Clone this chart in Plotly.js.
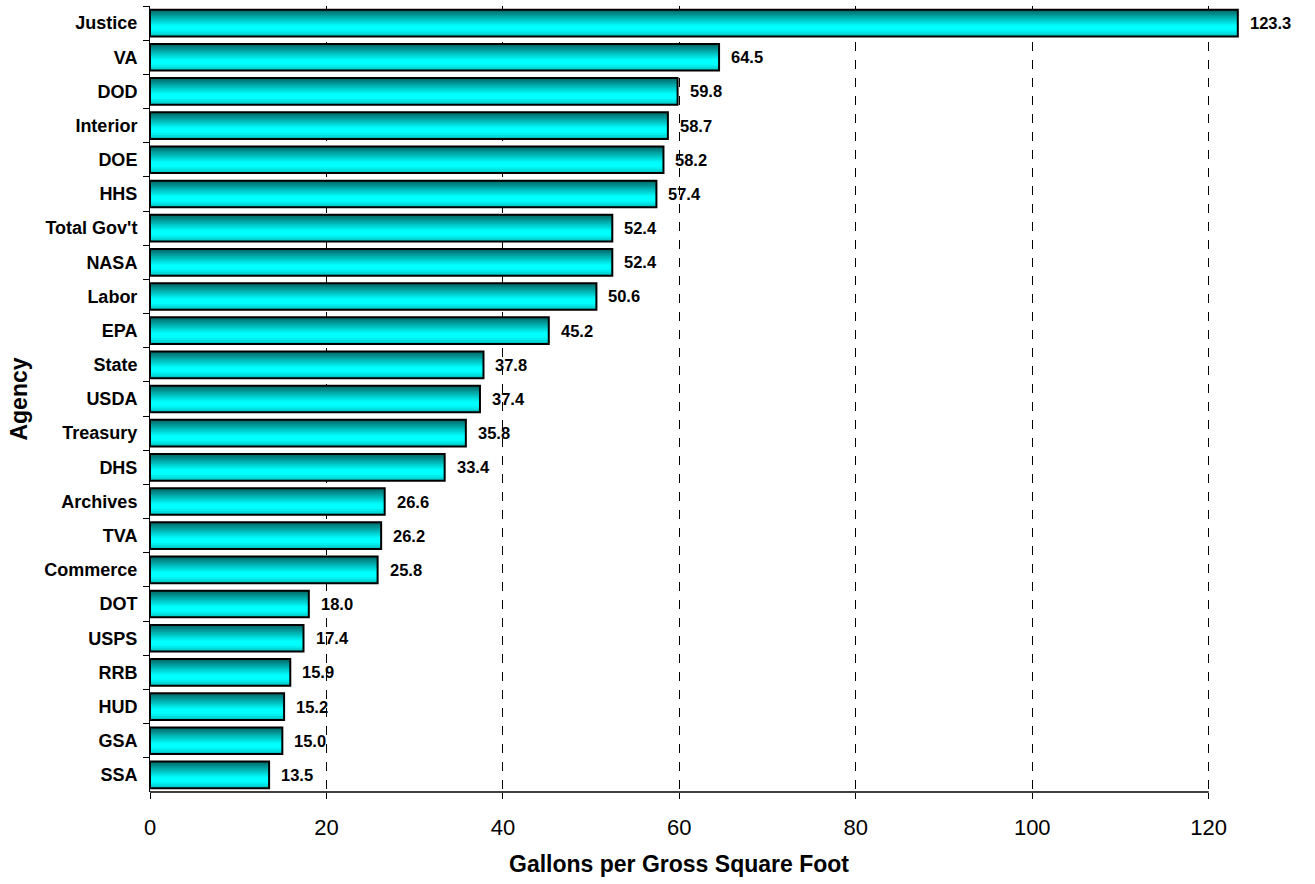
<!DOCTYPE html>
<html>
<head>
<meta charset="utf-8">
<script src="https://cdn.plot.ly/plotly-3.0.1.min.js"></script>
<style>html,body{margin:0;padding:0;background:#fff;}#chart{width:1315px;height:884px;}</style>
</head>
<body>
<div id="chart"></div>
<script>
const agencies = ["Justice","VA","DOD","Interior","DOE","HHS","Total Gov't","NASA","Labor","EPA","State","USDA","Treasury","DHS","Archives","TVA","Commerce","DOT","USPS","RRB","HUD","GSA","SSA"];
const gallons = [123.3,64.5,59.8,58.7,58.2,57.4,52.4,52.4,50.6,45.2,37.8,37.4,35.8,33.4,26.6,26.2,25.8,18.0,17.4,15.9,15.2,15.0,13.5];
const xTicks = [0,20,40,60,80,100,120];
const xTitle = 'Gallons per Gross Square Foot';
const yTitle = 'Agency';

const BW = 0.78;
const FONT = "Arial, 'Liberation Sans', sans-serif";

const traces = [];
// base cyan
traces.push({
  type: 'bar', orientation: 'h', x: gallons, y: agencies,
  width: BW, offset: -BW/2,
  marker: {color: '#00ffff', line: {width: 0}},
  hoverinfo: 'skip', cliponaxis: false
});
// bottom slight darkening
const bottomCols = ['rgb(0,238,238)','rgb(0,220,220)','rgb(0,195,195)'];
const bottomFrac = 0.22;
bottomCols.forEach((c, i) => {
  const start = bottomFrac * (i / bottomCols.length);
  traces.push({
    type: 'bar', orientation: 'h', x: gallons, y: agencies,
    width: BW * (bottomFrac - start),
    offset: BW/2 - BW * (bottomFrac - start),
    marker: {color: c, line: {width: 0}},
    hoverinfo: 'skip', cliponaxis: false
  });
});
// top gradient
const nStripes = 16, topFrac = 0.6;
for (let i = 0; i < nStripes; i++) {
  const t = i / nStripes;
  const g = Math.round(250 - (250 - 95) * t);
  const h = topFrac * (1 - t);
  traces.push({
    type: 'bar', orientation: 'h', x: gallons, y: agencies,
    width: BW * h,
    offset: -BW/2,
    marker: {color: `rgb(0,${g},${g})`, line: {width: 0}},
    hoverinfo: 'skip', cliponaxis: false
  });
}
// outline
traces.push({
  type: 'bar', orientation: 'h', x: gallons, y: agencies,
  width: BW, offset: -BW/2,
  marker: {color: 'rgba(0,0,0,0)', line: {color: '#000', width: 2}},
  hoverinfo: 'skip', cliponaxis: false
});

const annotations = gallons.map((v, i) => ({
  x: v, y: agencies[i], xref: 'x', yref: 'y',
  text: v.toFixed(1), showarrow: false,
  xanchor: 'left', yanchor: 'middle', xshift: 10,
  font: {family: FONT, size: 16.5, color: '#000', weight: 'bold'}
}));
// x-axis title centred on the 0..120 axis line
annotations.push({
  x: (xTicks[0] + xTicks[xTicks.length - 1]) / 2, y: 0, xref: 'x', yref: 'paper',
  text: xTitle, showarrow: false, xanchor: 'center', yanchor: 'middle', yshift: -72,
  font: {family: FONT, size: 23, color: '#000', weight: 'bold'}
});

const layout = {
  width: 1315, height: 884,
  margin: {l: 150, r: 71, t: 6, b: 92},
  paper_bgcolor: '#fff', plot_bgcolor: '#fff',
  barmode: 'overlay',
  showlegend: false,
  font: {family: FONT, color: '#000'},
  xaxis: {
    range: [0, 124], tickvals: xTicks, ticktext: xTicks.map(String),
    ticks: 'outside', ticklen: 6, tickcolor: '#000', tickwidth: 1,
    showline: false, zeroline: false,
    showgrid: true, gridcolor: '#000', griddash: 'dash', gridwidth: 1,
    ticklabelstandoff: 10,
    tickfont: {family: FONT, size: 22, color: '#000'},
    fixedrange: true
  },
  yaxis: {
    type: 'category', categoryorder: 'array', categoryarray: agencies,
    range: [agencies.length - 0.5, -0.5],
    ticks: 'outside', tickson: 'boundaries', ticklen: 6, tickcolor: '#000',
    showline: true, linecolor: '#000', linewidth: 1,
    showgrid: false, zeroline: false,
    ticklabelstandoff: 8,
    tickfont: {family: FONT, size: 18, color: '#000', weight: 'bold'},
    title: {text: yTitle, font: {family: FONT, size: 23, color: '#000', weight: 'bold'}, standoff: 10},
    fixedrange: true
  },
  shapes: [
    {type: 'line', xref: 'x', yref: 'paper', x0: xTicks[0], x1: xTicks[xTicks.length - 1], y0: 0, y1: 0,
     line: {color: '#000', width: 1.5}, layer: 'above'}
  ],
  annotations: annotations
};

Plotly.newPlot('chart', traces, layout, {displayModeBar: false, staticPlot: true});
</script>
</body>
</html>
